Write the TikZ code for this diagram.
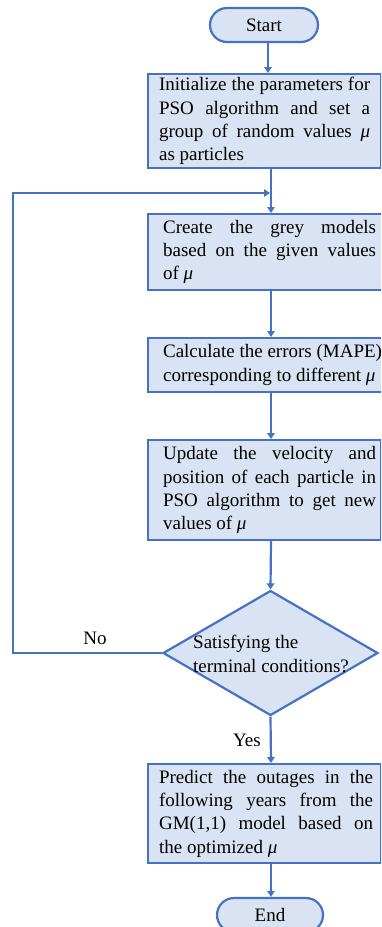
\documentclass[tikz,border=0pt]{standalone}
\usepackage{fontspec}
\setmainfont{Liberation Serif}
\usetikzlibrary{arrows.meta,shapes.geometric}
\definecolor{bordc}{HTML}{4472C4}
\definecolor{fillc}{HTML}{DAE3F3}
\newcommand{\bxt}[4]{\hspace*{#1}\parbox[c]{#2}{\hyphenpenalty=10000 #4}\hspace*{#3}}
\tikzset{
  fnt/.style={font=\fontsize{19}{23.3}\selectfont},
  procbox/.style={draw=bordc, fill=fillc, line width=2.2pt, inner xsep=0pt, inner ysep=0pt, anchor=north west, fnt},
  termbox/.style={draw=bordc, fill=fillc, line width=2.2pt, rounded corners=17pt, minimum height=34pt, inner sep=0pt, fnt},
  arr/.style={draw=bordc, line width=2.2pt, -{Triangle[length=6pt,width=7.5pt]}},
  lbl/.style={fnt, inner sep=0pt}
}
\begin{document}
\begin{tikzpicture}[x=1pt,y=-1pt]
\useasboundingbox (0,0) rectangle (381,927);
\clip (0,0) rectangle (381,927);
\coordinate (col) at (271,0);
\node[termbox, minimum width=108pt] (start) at (264,25) {Start};
\node[procbox, minimum width=233pt, minimum height=94pt] (b1) at (147,73)
  {\bxt{11pt}{211pt}{11pt}{Initialize the parameters for\linebreak PSO algorithm and set a\linebreak group of random values \textit{μ}\linebreak as particles}};
\node[procbox, minimum width=243pt, minimum height=76pt] (b2) at (147,213)
  {\bxt{15pt}{213pt}{15pt}{Create the grey models\linebreak based on the given values\linebreak of \textit{μ}}};
\node[procbox, minimum width=243pt, minimum height=54pt] (b3) at (147,337)
  {\bxt{15pt}{213pt}{15pt}{\mbox{Calculate the errors (MAPE)}\\\mbox{corresponding to different \textit{μ}}}};
\node[procbox, minimum width=233pt, minimum height=100pt] (b4) at (147,439)
  {\bxt{15pt}{213pt}{5pt}{Update the velocity and\linebreak position of each particle in\linebreak PSO algorithm to get new\linebreak values of \textit{μ}}};
\node[draw=bordc, fill=fillc, line width=2.2pt, diamond, minimum width=215pt, minimum height=125pt, inner sep=0pt] (dec) at (270.5,653) {};
\node[lbl, anchor=west, align=left] (dtext) at (193,654) {Satisfying the\\terminal conditions?};
\node[procbox, minimum width=233pt, minimum height=99pt] (b5) at (147,763)
  {\bxt{11pt}{214pt}{8pt}{Predict the outages in the\linebreak following years from the\linebreak GM(1,1) model based on\linebreak the optimized \textit{μ}}};
\node[termbox, minimum width=106pt] (end) at (270,915) {End};
\node[lbl] (no) at (95,638) {No};
\node[lbl] (yes) at (247,740) {Yes};
\coordinate (fb) at (13,193);
\coordinate (join) at (270,193);
\draw[arr] ([xshift=4pt]start.south) -- ([xshift=4pt]start.south |- b1.north);
\draw[arr] (b1.south -| col) -- (b2.north -| col);
\draw[arr] (b2.south -| col) -- (b3.north -| col);
\draw[arr] (b3.south -| col) -- (b4.north -| col);
\draw[arr] (b4.south -| col) -- (dec.north);
\draw[arr] (dec.south) -- (b5.north -| col);
\draw[arr] (b5.south -| col) -- (end.north -| col);
\draw[arr] (dec.west) -| (fb) -- (join);
\end{tikzpicture}
\end{document}
